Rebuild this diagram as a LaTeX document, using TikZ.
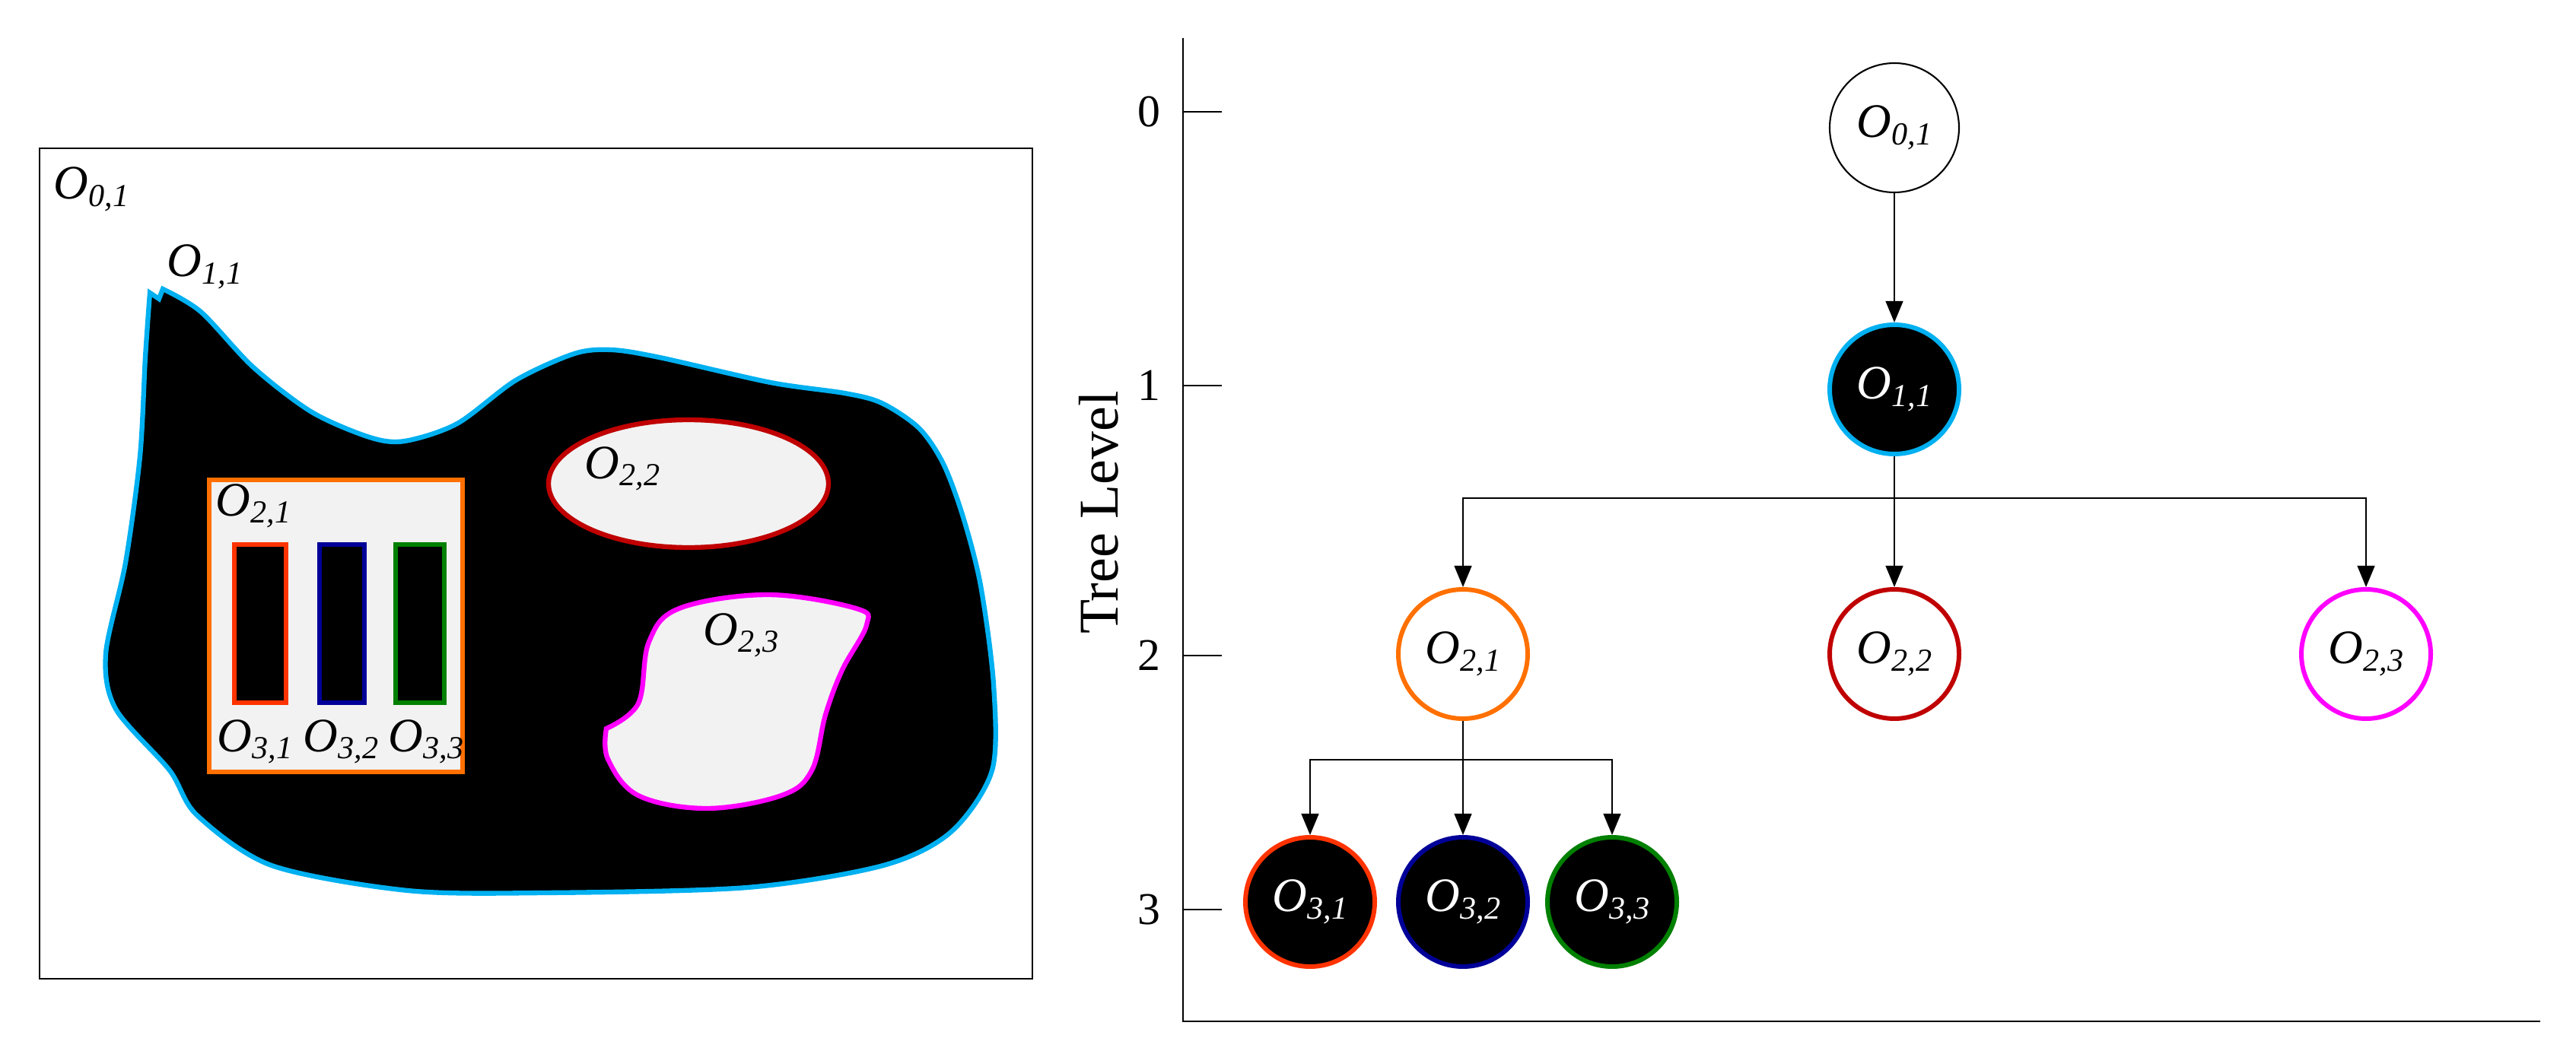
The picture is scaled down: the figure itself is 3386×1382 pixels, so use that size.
\documentclass[tikz,border=0pt]{standalone}
\usepackage{fontspec}
\setmainfont{Liberation Serif}
\usetikzlibrary{arrows.meta}
\definecolor{cyanb}{RGB}{0,176,240}
\definecolor{orng}{RGB}{255,112,0}
\definecolor{redr}{RGB}{255,51,0}
\definecolor{blur}{RGB}{0,0,153}
\definecolor{grnr}{RGB}{0,128,0}
\definecolor{dred}{RGB}{192,0,0}
\definecolor{magn}{RGB}{255,0,255}
\definecolor{lgray}{RGB}{242,242,242}
\newcommand{\Olab}[2]{\textit{O\raisebox{-2.8pt}{\fontsize{12}{12}\selectfont #1,#2}}}
\begin{document}
\begin{tikzpicture}[x=0.1mm,y=-0.1mm,
  lbl/.style={inner sep=0pt,anchor=base west,font=\fontsize{18}{20}\selectfont},
  tnode/.style={circle,minimum size=17mm,inner sep=0pt,line width=1.7pt,font=\fontsize{18}{20}\selectfont},
  arr/.style={-{Triangle[length=8pt,width=6.5pt]},line width=0.6pt},
  shapeln/.style={line width=1.8pt},
  ticklbl/.style={font=\fontsize{17}{20}\selectfont,inner sep=0pt}]
\useasboundingbox (0,0) rectangle (3386,1382);
% ---------- left picture ----------
\draw[line width=0.6pt] (52,195) rectangle (1357,1287);
\node[lbl] (l01) at (70,262) {\Olab{0}{1}};
\draw[shapeln,draw=cyanb,fill=black] plot[smooth,tension=0.5] coordinates {
 (214,380) (264,410) (333,483) (410,542) (486,575) (532,580) (601,557)
 (678,500) (755,465) (804,460) (867,470) (1013,503) (1110,517) (1159,530)
 (1208,563) (1240,610) (1266,680) (1289,770) (1306,900) (1304,1013)
 (1250,1094) (1161,1138) (982,1167) (714,1174) (536,1171) (357,1138)
 (259,1072) (223,1013) (152,932) (139,860) (165,740) (184,600) (191,470) (197,385)}
 -- (209,393) -- cycle;
\node[lbl] (l11) at (219,364) {\Olab{1}{1}};
\draw[line width=1.9pt,draw=orng,fill=lgray] (275,631) rectangle (608,1015);
\node[lbl] (l21) at (283,678) {\Olab{2}{1}};
\draw[shapeln,draw=redr,fill=black] (308,716) rectangle (376,924);
\draw[shapeln,draw=blur,fill=black] (420,716) rectangle (479,924);
\draw[shapeln,draw=grnr,fill=black] (520,716) rectangle (584,924);
\node[lbl] (l31) at (285,988) {\Olab{3}{1}};
\node[lbl] (l32) at (398,988) {\Olab{3}{2}};
\node[lbl] (l33) at (510,988) {\Olab{3}{3}};
\draw[shapeln,draw=dred,fill=lgray] (905,636) ellipse [x radius=18.4mm,y radius=8.4mm];
\node[lbl] (l22) at (768,629) {\Olab{2}{2}};
\draw[shapeln,draw=magn,fill=lgray] plot[smooth,tension=0.6] coordinates {
 (797,958) (839,925) (853,844) (893,800) (1009,782) (1125,800) (1139,822)
 (1107,881) (1085,940) (1067,1013) (1027,1046) (929,1063) (839,1046) (799,998) (797,958)} -- cycle;
\node[lbl] (l23) at (924,848) {\Olab{2}{3}};
% ---------- right picture: axes ----------
\draw[line width=0.6pt] (1555,50) -- (1555,1343) -- (3339,1343);
\foreach \yy/\t in {147/0,507/1,862/2,1196/3}{
  \draw[line width=0.6pt] (1555,\yy) -- (1606,\yy);
  \node[ticklbl] (tk\t) at (1510,\yy) {\t};
}
\node[rotate=90,font=\fontsize{21}{24}\selectfont,inner sep=0pt] (tl) at (1444,674) {Tree Level};
% ---------- tree ----------
\node[tnode,draw=black,line width=0.6pt] (t01) at (2490,168) {\Olab{0}{1}};
\node[tnode,draw=cyanb,fill=black,text=white] (t11) at (2490,512) {\Olab{1}{1}};
\node[tnode,draw=orng] (t21) at (1923,860) {\Olab{2}{1}};
\node[tnode,draw=dred] (t22) at (2490,860) {\Olab{2}{2}};
\node[tnode,draw=magn] (t23) at (3110,860) {\Olab{2}{3}};
\node[tnode,draw=redr,fill=black,text=white] (t31) at (1722,1186) {\Olab{3}{1}};
\node[tnode,draw=blur,fill=black,text=white] (t32) at (1923,1186) {\Olab{3}{2}};
\node[tnode,draw=grnr,fill=black,text=white] (t33) at (2119,1186) {\Olab{3}{3}};
\coordinate (b1) at (0,655);
\coordinate (b2) at (0,999);
\draw[arr] (t01) -- (t11);
\draw[arr] (t11) -- (t22);
\draw[arr] (t11.south) -- (t11.south |- b1) -| (t21.north);
\draw[arr] (t11.south |- b1) -| (t23.north);
\draw[arr] (t21) -- (t32);
\draw[arr] (t21.south) -- (t21.south |- b2) -| (t31.north);
\draw[arr] (t21.south |- b2) -| (t33.north);
\end{tikzpicture}
\end{document}
